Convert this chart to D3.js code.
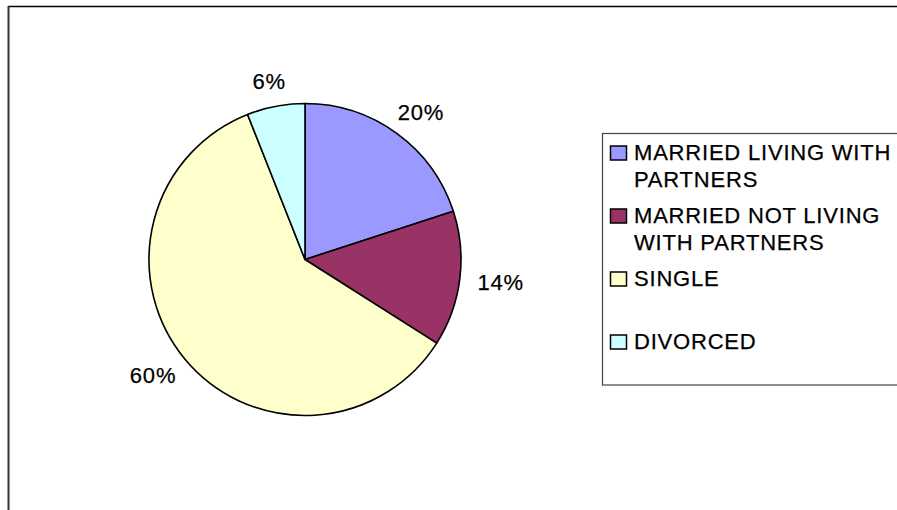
<!DOCTYPE html>
<html>
<head>
<meta charset="utf-8">
<script src="https://cdn.jsdelivr.net/npm/d3@7"></script>
<style>
  html, body { margin: 0; padding: 0; background: #fff; }
  svg { display: block; }
  text { font-family: "Liberation Sans", Arial, sans-serif; fill: #000; stroke: #000; stroke-width: 0.25px; }
</style>
</head>
<body>
<svg id="chart" width="897" height="510"></svg>
<script>
// Marital status breakdown (percent)
const categories = [
  "MARRIED LIVING WITH PARTNERS",
  "MARRIED NOT LIVING WITH PARTNERS",
  "SINGLE",
  "DIVORCED"
];
const values = [20, 14, 60, 6];
const colors = ["#9999FF", "#993366", "#FFFFCC", "#CCFFFF"];

const W = 897, H = 510;
const svg = d3.select("#chart");

// chart area frame (top and left edges visible)
svg.append("line")
  .attr("x1", 8).attr("x2", W).attr("y1", 6.5).attr("y2", 6.5)
  .attr("stroke", "#000").attr("stroke-width", 1.6);
svg.append("line")
  .attr("x1", 8.5).attr("x2", 8.5).attr("y1", 6).attr("y2", H)
  .attr("stroke", "#333").attr("stroke-width", 2);

// pie
const cx = 305, cy = 259.5, radius = 156;
const pie = d3.pie().sort(null).value(d => d).startAngle(0).endAngle(2 * Math.PI);
const arcs = pie(values);
const arc = d3.arc().innerRadius(0).outerRadius(radius);
const labelGap = 174; // distance from centre to the label's anchor point
const total = d3.sum(values);
const fmt = d3.format(".0%");

const g = svg.append("g").attr("transform", `translate(${cx},${cy})`);
g.selectAll("path.slice")
  .data(arcs)
  .join("path")
  .attr("class", "slice")
  .attr("d", arc)
  .attr("fill", (d, i) => colors[i])
  .attr("stroke", "#000")
  .attr("stroke-width", 1.6)
  .attr("stroke-linejoin", "round");

// percentage labels: the label box sits outward of a point on the slice's mid-angle ray
g.selectAll("text.pct")
  .data(arcs)
  .join("text")
  .attr("class", "pct")
  .attr("text-anchor", "middle")
  .attr("dy", "0.36em")
  .style("font-size", "22px")
  .style("letter-spacing", "0.8px")
  .text(d => fmt(d.value / total))
  .each(function(d) {
    const a = (d.startAngle + d.endAngle) / 2;
    const ux = Math.sin(a), uy = -Math.cos(a);
    const bb = this.getBBox();
    const x = labelGap * ux + bb.width / 2 * ux;
    const y = labelGap * uy + 8 * uy;
    d3.select(this).attr("transform", `translate(${x},${y})`);
  });

// legend
const legendX = 602.5, legendY = 133.5, legendH = 251.5;
svg.append("rect")
  .attr("x", legendX).attr("y", legendY)
  .attr("width", W - legendX + 10).attr("height", legendH)
  .attr("fill", "#fff")
  .attr("stroke", "#444").attr("stroke-width", 1.2);

const firstBaseline = 159.5, itemPitch = 63, linePitch = 27;
const textX = 634, maxTextW = 265;

const items = svg.selectAll("g.item")
  .data(categories)
  .join("g")
  .attr("class", "item")
  .attr("transform", (d, i) => `translate(0,${firstBaseline + i * itemPitch})`);

items.append("rect")
  .attr("x", 610.5).attr("y", -13.5)
  .attr("width", 16).attr("height", 14)
  .attr("fill", (d, i) => colors[i])
  .attr("stroke", "#000").attr("stroke-width", 1.5);

items.each(function(name) {
  const t = d3.select(this).append("text")
    .attr("x", textX)
    .style("font-size", "22px")
    .style("letter-spacing", "0.8px");
  // wrap words onto lines that fit the legend width
  const words = name.split(" ");
  let line = [], lineNo = 0;
  let tspan = t.append("tspan").attr("x", textX).attr("y", 0);
  words.forEach(w => {
    line.push(w);
    tspan.text(line.join(" "));
    if (tspan.node().getComputedTextLength() > maxTextW && line.length > 1) {
      line.pop();
      tspan.text(line.join(" "));
      line = [w];
      lineNo++;
      tspan = t.append("tspan").attr("x", textX).attr("y", lineNo * linePitch).text(w);
    }
  });
});
</script>
</body>
</html>
